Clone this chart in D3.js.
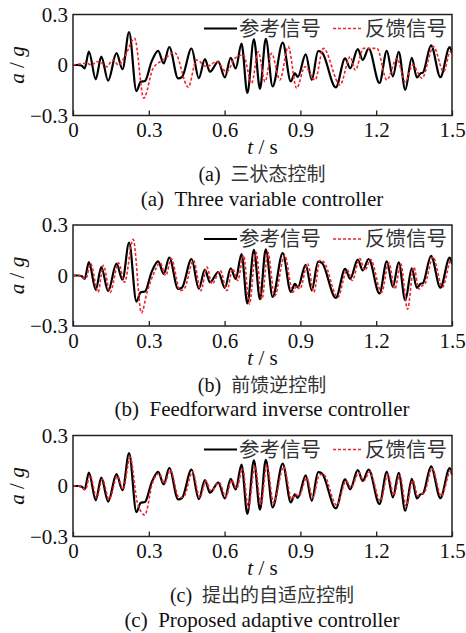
<!DOCTYPE html>
<html lang="zh">
<head>
<meta charset="utf-8">
<title>参考信号与反馈信号</title>
<script src="https://cdn.jsdelivr.net/npm/d3@7"></script>
<style>
  body { margin: 0; background: #fff; }
  .num { font-family: "Liberation Serif", "Times New Roman", serif; font-size: 21px; fill: #111; }
  .cjk { font-family: "Noto Sans CJK SC", sans-serif; font-size: 20.5px; fill: #333; }
</style>
</head>
<body>
<div id="chart"></div>
<script>
// reference signal (same in all three panels)
const refT = [0, 0.02, 0.035, 0.046, 0.063, 0.090, 0.112, 0.139, 0.172, 0.196, 0.222, 0.251, 0.268, 0.285,
  0.311, 0.337, 0.359, 0.381, 0.416, 0.432, 0.469, 0.498, 0.522, 0.542, 0.575, 0.601, 0.624, 0.644,
  0.667, 0.690, 0.716, 0.740, 0.763, 0.790, 0.830, 0.862, 0.878, 0.890, 0.921, 0.945, 0.970, 0.985,
  1.040, 1.077, 1.097, 1.127, 1.147, 1.170, 1.213, 1.242, 1.266, 1.289, 1.315, 1.341, 1.361, 1.375,
  1.385, 1.417, 1.454, 1.491, 1.5];
const refA = [0, 0, -0.005, -0.02, 0.08, -0.085, 0.05, -0.093, 0.07, -0.025, 0.196, -0.155, -0.1, -0.095,
  0.02, 0.084, 0.01, 0.107, -0.08, -0.07, 0.098, -0.078, 0.035, -0.04, 0.02, -0.074, 0.043, -0.02,
  0.127, -0.166, 0.152, -0.141, 0.156, -0.127, 0.133, -0.098, -0.05, -0.07, 0.063, -0.088, 0.082, 0.075,
  -0.133, 0.039, -0.02, 0.094, 0.03, 0.098, -0.107, 0.084, -0.068, 0.078, -0.147, 0.043, -0.074, -0.05,
  -0.045, 0.117, -0.072, 0.107, 0.068];

// (a) three variable controller feedback
const fbAT = [0, 0.053, 0.075, 0.093, 0.11, 0.132, 0.159, 0.18, 0.205, 0.244, 0.280, 0.317, 0.357, 0.403,
  0.456, 0.489, 0.529, 0.568, 0.608, 0.641, 0.674, 0.707, 0.733, 0.760, 0.786, 0.819, 0.852, 0.885,
  0.918, 0.958, 0.991, 1.057, 1.097, 1.117, 1.15, 1.203, 1.242, 1.282, 1.315, 1.345, 1.381, 1.427,
  1.467, 1.493, 1.5];
const fbAA = [0, 0.01, 0.0, 0.02, 0.015, -0.01, 0.03, 0.0, 0.05, 0.158, -0.197, -0.02, 0.03, 0.073,
  -0.132, 0.03, -0.01, 0.02, -0.04, 0.04, 0.06, -0.108, 0.079, -0.099, 0.069, -0.089, 0.109, -0.138,
  -0.01, -0.089, 0.099, -0.118, 0.049, -0.03, 0.099, 0.099, -0.089, 0.039, -0.099, 0.0, -0.079, 0.109,
  -0.04, 0.079, 0.07];

// (b) feedforward inverse controller feedback
const fbBT = [0, 0.025, 0.05, 0.07, 0.099, 0.12, 0.147, 0.18, 0.204, 0.238, 0.271, 0.293,
  0.319, 0.345, 0.367, 0.389, 0.424, 0.44, 0.477, 0.506, 0.53, 0.55, 0.583, 0.609, 0.632, 0.652,
  0.675, 0.698, 0.724, 0.748, 0.771, 0.798, 0.838, 0.87, 0.886, 0.898, 0.929, 0.953, 0.978, 0.993,
  1.048, 1.085, 1.105, 1.135, 1.155, 1.178, 1.221, 1.25, 1.274, 1.297, 1.324, 1.349, 1.369, 1.383,
  1.393, 1.425, 1.462, 1.498, 1.5];
const fbBA = [0, 0, -0.02, 0.07, -0.1, 0.06, -0.1, 0.075, -0.04, 0.215, -0.222, -0.1,
  0.01, 0.075, 0.0, 0.1, -0.09, -0.08, 0.09, -0.09, 0.05, -0.05, 0.03, -0.09, 0.04, -0.03,
  0.12, -0.17, 0.14, -0.14, 0.14, -0.12, 0.12, -0.1, -0.06, -0.08, 0.07, -0.1, 0.09, 0.08,
  -0.13, 0.035, -0.03, 0.1, 0.03, 0.095, -0.1, 0.075, -0.08, 0.07, -0.2, 0.05, -0.08, -0.06,
  -0.05, 0.11, -0.07, 0.1, 0.095];

// (c) proposed adaptive controller feedback
const fbCT = [0, 0.02, 0.05, 0.067, 0.094, 0.116, 0.143, 0.176, 0.198, 0.226, 0.255, 0.284, 0.315,
  0.341, 0.362, 0.385, 0.42, 0.44, 0.473, 0.502, 0.526, 0.546, 0.579, 0.605, 0.628, 0.648, 0.671,
  0.694, 0.72, 0.744, 0.767, 0.794, 0.834, 0.866, 0.88, 0.894, 0.925, 0.949, 0.975, 0.99, 1.044,
  1.081, 1.101, 1.131, 1.151, 1.174, 1.217, 1.246, 1.27, 1.293, 1.319, 1.345, 1.365, 1.38, 1.39,
  1.421, 1.458, 1.495, 1.5];
const fbCA = [0, 0, -0.02, 0.065, -0.07, 0.04, -0.08, 0.06, -0.02, 0.17, -0.1, -0.172, 0.02,
  0.075, 0.015, 0.095, -0.07, -0.06, 0.085, -0.07, 0.03, -0.03, 0.02, -0.065, 0.035, -0.015, 0.105,
  -0.13, 0.12, -0.11, 0.125, -0.1, 0.115, -0.08, -0.05, -0.06, 0.05, -0.07, 0.065, 0.07, -0.115,
  0.03, -0.01, 0.08, 0.03, 0.085, -0.09, 0.07, -0.055, 0.065, -0.12, 0.035, -0.06, -0.045, -0.04,
  0.105, -0.06, 0.09, 0.085];

const xTicks = [0, 0.3, 0.6, 0.9, 1.2, 1.5];
const yTicks = [-0.3, 0, 0.3];
const legendNames = ["参考信号", "反馈信号"];
const panels = [
  { fbT: fbAT, fbA: fbAA, tag: "(a)", cn: "三状态控制", en: "Three variable controller" },
  { fbT: fbBT, fbA: fbBA, tag: "(b)", cn: "前馈逆控制", en: "Feedforward inverse controller" },
  { fbT: fbCT, fbA: fbCA, tag: "(c)", cn: "提出的自适应控制", en: "Proposed adaptive controller" }
];

const W = 466, H = 633;
const left = 73, right = 452, top0 = 14.5, ph = 101, step = 210.5;

const svg = d3.select("#chart").append("svg")
  .attr("width", W).attr("height", H);

const x = d3.scaleLinear().domain([0, 1.5]).range([left, right]);

panels.forEach((p, i) => {
  const top = top0 + i * step;
  const y = d3.scaleLinear().domain([-0.3, 0.3]).range([top + ph, top]);
  const g = svg.append("g");

  const clipId = "clip" + i;
  g.append("clipPath").attr("id", clipId)
    .append("rect").attr("x", left).attr("y", top).attr("width", right - left).attr("height", ph);

  const line = d3.line().x(d => x(d[0])).y(d => y(d[1])).curve(d3.curveMonotoneX);
  const ref = refT.map((t, k) => [t, refA[k]]);
  const fb = p.fbT.map((t, k) => [t, p.fbA[k]]);

  g.append("path").datum(ref)
    .attr("clip-path", `url(#${clipId})`)
    .attr("d", line).attr("fill", "none")
    .attr("stroke", "#000").attr("stroke-width", 2.2);
  g.append("path").datum(fb)
    .attr("clip-path", `url(#${clipId})`)
    .attr("d", line).attr("fill", "none")
    .attr("stroke", "#f0262a").attr("stroke-width", 1.6)
    .attr("stroke-dasharray", "3,2");

  // axes: inward ticks
  const xAxis = d3.axisBottom(x).tickValues(xTicks).tickSizeInner(-5).tickSizeOuter(0)
    .tickFormat(d => d3.format("")(d));
  const gx = g.append("g").attr("transform", `translate(0,${top + ph})`).call(xAxis);
  gx.select(".domain").remove();
  gx.selectAll("line").attr("stroke", "#222").attr("stroke-width", 1.3);
  gx.selectAll("text").attr("class", "num").attr("font-size", null).attr("font-family", null)
    .attr("fill", null).attr("y", 5).attr("dy", "0.8em");

  const yAxis = d3.axisLeft(y).tickValues(yTicks).tickSizeInner(0).tickSizeOuter(0)
    .tickFormat(d => d === 0 ? "0" : d3.format(".1f")(d).replace("-", "\u2212"));
  const gy = g.append("g").attr("transform", `translate(${left},0)`).call(yAxis);
  gy.select(".domain").remove();
  gy.selectAll("text").attr("class", "num").attr("font-size", null).attr("font-family", null)
    .attr("fill", null).attr("x", -5).attr("dy", "0.33em");

  // frame
  g.append("rect").attr("x", left).attr("y", top).attr("width", right - left).attr("height", ph)
    .attr("fill", "none").attr("stroke", "#222").attr("stroke-width", 1.5);

  // legend
  const ly = top + 14;
  g.append("line").attr("x1", 204).attr("x2", 237).attr("y1", ly).attr("y2", ly)
    .attr("stroke", "#000").attr("stroke-width", 2);
  g.append("text").attr("class", "cjk").attr("x", 239).attr("y", ly).attr("dy", "0.35em")
    .text(legendNames[0]);
  g.append("line").attr("x1", 333).attr("x2", 362).attr("y1", ly).attr("y2", ly)
    .attr("stroke", "#f0262a").attr("stroke-width", 1.5).attr("stroke-dasharray", "3,2");
  g.append("text").attr("class", "cjk").attr("x", 365).attr("y", ly).attr("dy", "0.35em")
    .text(legendNames[1]);

  // axis titles
  const yl = g.append("text").attr("class", "num")
    .attr("transform", `translate(24,${top + ph / 2}) rotate(-90)`)
    .attr("text-anchor", "middle");
  yl.append("tspan").attr("font-style", "italic").text("a");
  yl.append("tspan").text(" / ");
  yl.append("tspan").attr("font-style", "italic").text("g");

  const xl = g.append("text").attr("class", "num")
    .attr("x", (left + right) / 2).attr("y", top + ph + 38.5).attr("text-anchor", "middle");
  xl.append("tspan").attr("font-style", "italic").text("t");
  xl.append("tspan").text(" / s");

  // captions
  const c1 = g.append("text").attr("class", "num").attr("x", 262).attr("y", top + ph + 65.5)
    .attr("text-anchor", "middle").style("font-size", "20px");
  c1.append("tspan").text(p.tag + "\u00a0\u00a0");
  c1.append("tspan").attr("class", "cjk").style("fill", "#333").style("font-size", "19px").text(p.cn);

  g.append("text").attr("class", "num").attr("x", 262).attr("y", top + ph + 90)
    .attr("text-anchor", "middle").text(p.tag + "\u00a0\u00a0" + p.en);
});
</script>
</body>
</html>
